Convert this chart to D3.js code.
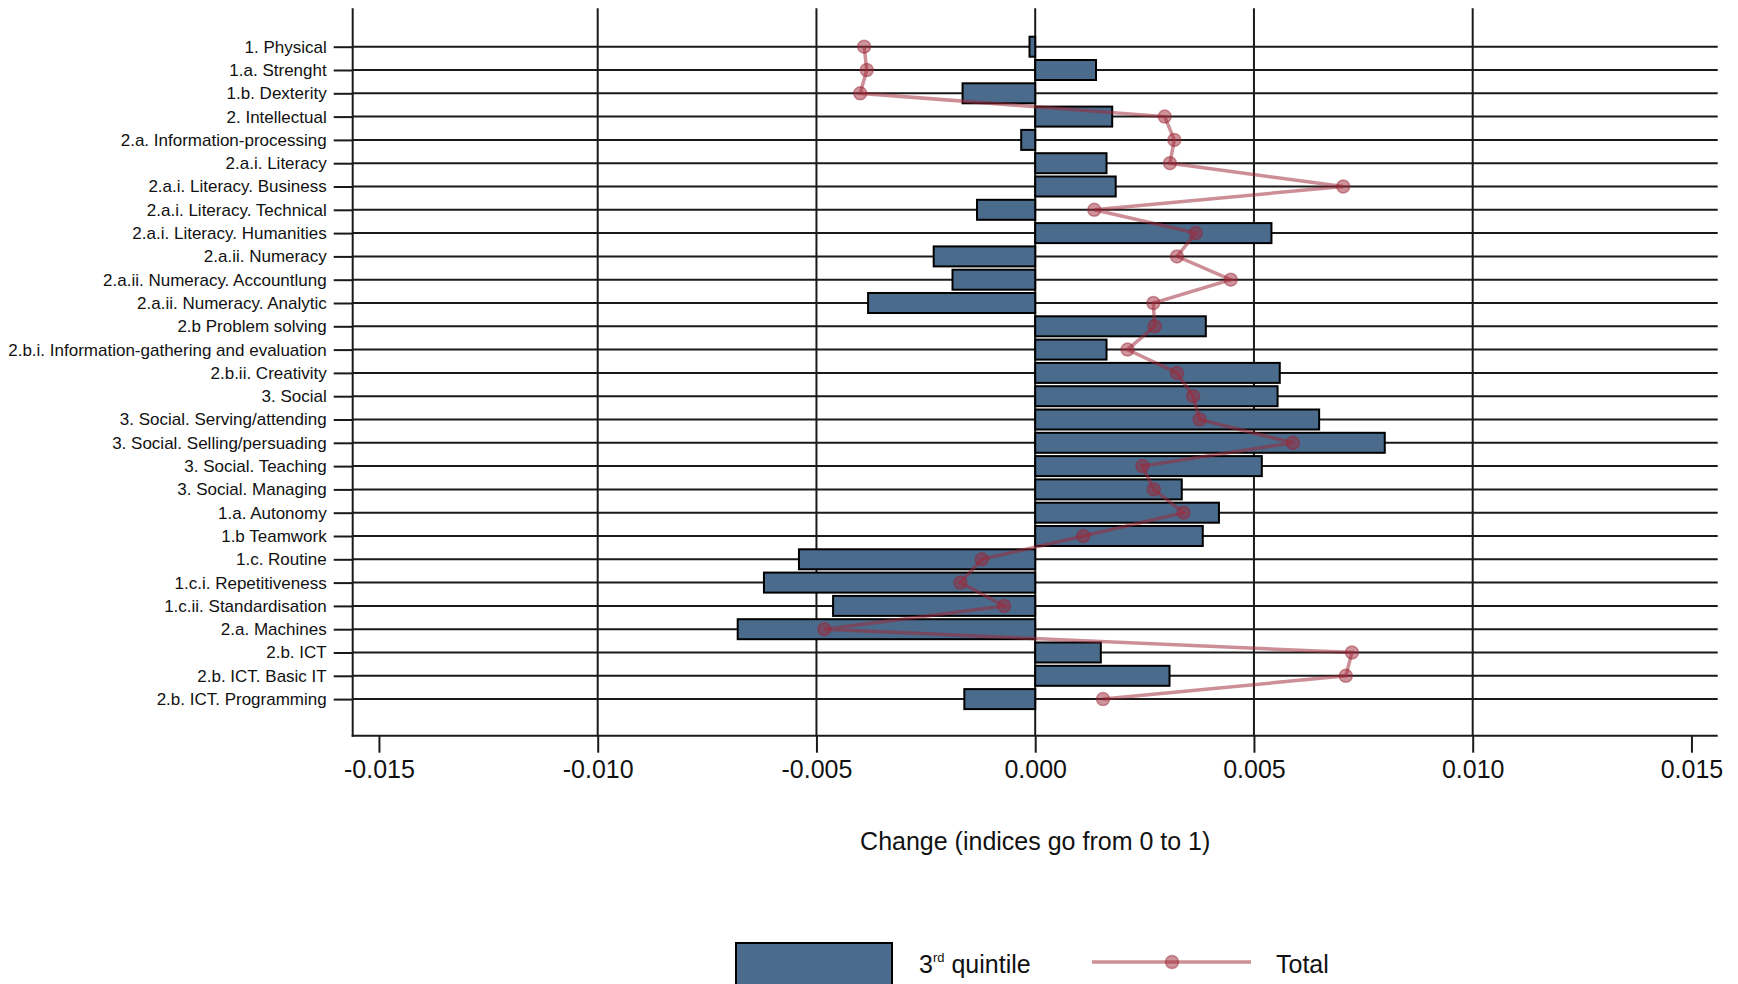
<!DOCTYPE html>
<html>
<head>
<meta charset="utf-8">
<script src="https://cdn.jsdelivr.net/npm/d3@7"></script>
<style>
  html, body { margin: 0; padding: 0; background: #fff; }
  svg { display: block; font-family: "Liberation Sans", Arial, sans-serif; }
</style>
</head>
<body>
<svg id="chart" width="1738" height="984"></svg>
<script>
const categories = [
  "1. Physical", "1.a. Strenght", "1.b. Dexterity", "2. Intellectual",
  "2.a. Information-processing", "2.a.i. Literacy", "2.a.i. Literacy. Business",
  "2.a.i. Literacy. Technical", "2.a.i. Literacy. Humanities", "2.a.ii. Numeracy",
  "2.a.ii. Numeracy. Accountlung", "2.a.ii. Numeracy. Analytic", "2.b Problem solving",
  "2.b.i. Information-gathering and evaluation", "2.b.ii. Creativity", "3. Social",
  "3. Social. Serving/attending", "3. Social. Selling/persuading", "3. Social. Teaching",
  "3. Social. Managing", "1.a. Autonomy", "1.b Teamwork", "1.c. Routine",
  "1.c.i. Repetitiveness", "1.c.ii. Standardisation", "2.a. Machines", "2.b. ICT",
  "2.b. ICT. Basic IT", "2.b. ICT. Programming"
];
const quintile3 = [
  -0.00013, 0.00139, -0.00166, 0.00176, -0.00032, 0.00163, 0.00184, -0.00133,
  0.00540, -0.00232, -0.00189, -0.00382, 0.00390, 0.00163, 0.00559, 0.00554,
  0.00649, 0.00799, 0.00518, 0.00335, 0.00420, 0.00383, -0.00540, -0.00620,
  -0.00462, -0.00680, 0.00150, 0.00307, -0.00162
];
const total = [
  -0.00391, -0.00385, -0.00400, 0.00296, 0.00318, 0.00308, 0.00704, 0.00135,
  0.00367, 0.00324, 0.00447, 0.00270, 0.00273, 0.00211, 0.00324, 0.00361,
  0.00376, 0.00589, 0.00245, 0.00271, 0.00339, 0.00110, -0.00122, -0.00171,
  -0.00071, -0.00482, 0.00724, 0.00710, 0.00155
];
const xTicks = [-0.015, -0.010, -0.005, 0.000, 0.005, 0.010, 0.015];
const xGrid = [-0.010, -0.005, 0.000, 0.005, 0.010];
const seriesNames = ["3rd quintile", "Total"];
const axisTitle = "Change (indices go from 0 to 1)";

const svg = d3.select("#chart");
const pLeft = 352.7, pRight = 1717.7, pTop = 8.3, pBottom = 735.7;
const barColor = "#4a6b8c";
const lineColor = "rgba(160,40,55,0.52)";
const FONT = '"Liberation Sans", Arial, sans-serif';

const x = d3.scaleLinear().domain([-0.0156, 0.0156]).range([pLeft, pRight]);
const y = d3.scalePoint().domain(categories).range([46.7, 699.1]);
const barH = 20;

// vertical gridlines
svg.append("g").selectAll("line").data(xGrid).join("line")
  .attr("x1", d => x(d)).attr("x2", d => x(d))
  .attr("y1", pTop).attr("y2", pBottom)
  .attr("stroke", "#1a1a1a").attr("stroke-width", 2);

// horizontal gridlines
svg.append("g").selectAll("line").data(categories).join("line")
  .attr("x1", pLeft).attr("x2", pRight)
  .attr("y1", d => y(d)).attr("y2", d => y(d))
  .attr("stroke", "#1a1a1a").attr("stroke-width", 2);

// y axis
const yAxis = svg.append("g").attr("transform", `translate(${pLeft},0)`)
  .call(d3.axisLeft(y).tickSize(19).tickPadding(7));
yAxis.select(".domain").remove();
yAxis.selectAll(".tick line").attr("stroke", "#1a1a1a").attr("stroke-width", 2);
yAxis.selectAll(".tick text").attr("font-size", 17).attr("fill", "#111")
  .attr("font-family", FONT);
svg.append("line").attr("x1", pLeft).attr("x2", pLeft).attr("y1", pTop).attr("y2", pBottom + 1)
  .attr("stroke", "#1a1a1a").attr("stroke-width", 2);

// x axis
const xAxis = svg.append("g").attr("transform", `translate(0,${pBottom})`)
  .call(d3.axisBottom(x).tickValues(xTicks).tickSize(17).tickSizeOuter(0).tickPadding(8)
    .tickFormat(d => d3.format(".3f")(d).replace("\u2212", "-")));
xAxis.select(".domain").attr("stroke", "#1a1a1a").attr("stroke-width", 2)
  .attr("d", `M${pLeft - 1},0H${pRight}`);
xAxis.selectAll(".tick line").attr("stroke", "#1a1a1a").attr("stroke-width", 2);
xAxis.selectAll(".tick text").attr("font-size", 25).attr("fill", "#111")
  .attr("font-family", FONT);

// bars
svg.append("g").selectAll("rect").data(categories).join("rect")
  .attr("x", (d, i) => Math.min(x(0), x(quintile3[i])))
  .attr("width", (d, i) => Math.abs(x(quintile3[i]) - x(0)))
  .attr("y", d => y(d) - barH / 2)
  .attr("height", barH)
  .attr("fill", barColor)
  .attr("stroke", "#000").attr("stroke-width", 2);

// total line
const line = d3.line().x(d => x(d)).y((d, i) => y(categories[i]));
svg.append("path").datum(total).attr("d", line)
  .attr("fill", "none").attr("stroke", lineColor).attr("stroke-width", 3.5);
svg.append("g").selectAll("circle").data(total).join("circle")
  .attr("cx", d => x(d)).attr("cy", (d, i) => y(categories[i]))
  .attr("r", 6.5)
  .attr("fill", "rgba(160,40,55,0.5)")
  .attr("stroke", "rgba(150,35,50,0.45)").attr("stroke-width", 1.5);

// axis title
svg.append("text").attr("x", (pLeft + pRight) / 2).attr("y", 850)
  .attr("text-anchor", "middle").attr("font-size", 25).attr("fill", "#111")
  .attr("font-family", FONT)
  .text(axisTitle);

// legend
const lg = svg.append("g").attr("font-family", FONT);
lg.append("rect").attr("x", 736).attr("y", 943).attr("width", 156).attr("height", 50)
  .attr("fill", barColor).attr("stroke", "#000").attr("stroke-width", 2);
const t1 = lg.append("text").attr("x", 919).attr("y", 973).attr("font-size", 25).attr("fill", "#111");
t1.append("tspan").text("3");
t1.append("tspan").attr("font-size", 13).attr("dy", -11).text("rd");
t1.append("tspan").attr("dy", 11).text(" quintile");
lg.append("line").attr("x1", 1092).attr("x2", 1251).attr("y1", 962).attr("y2", 962)
  .attr("stroke", lineColor).attr("stroke-width", 3.5);
lg.append("circle").attr("cx", 1172).attr("cy", 962).attr("r", 6.5)
  .attr("fill", "rgba(160,40,55,0.5)").attr("stroke", "rgba(150,35,50,0.45)").attr("stroke-width", 1.5);
lg.append("text").attr("x", 1276).attr("y", 973).attr("font-size", 25).attr("fill", "#111")
  .text(seriesNames[1]);
</script>
</body>
</html>
